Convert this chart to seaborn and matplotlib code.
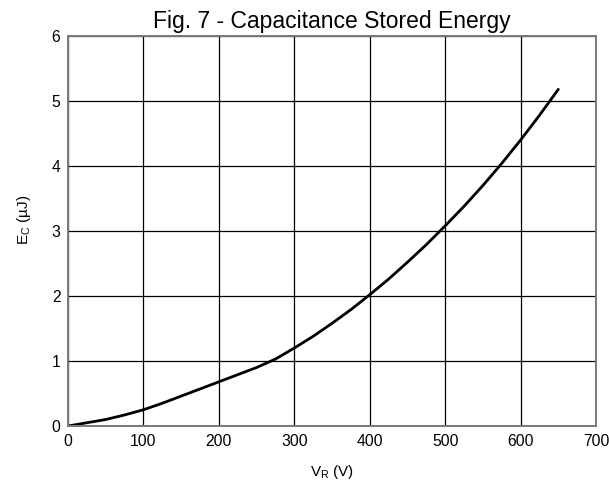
import matplotlib
matplotlib.use('Agg')
import matplotlib.pyplot as plt
import seaborn as sns
import pandas as pd

v_r = [0, 25, 50, 75, 100, 125, 150, 175, 200, 225, 250, 275, 300, 325, 350,
       375, 400, 425, 450, 475, 500, 525, 550, 575, 600, 625, 650]
e_c = [0, 0.05, 0.1, 0.17, 0.25, 0.35, 0.46, 0.57, 0.68, 0.79, 0.9, 1.03, 1.2,
       1.38, 1.58, 1.79, 2.02, 2.26, 2.52, 2.79, 3.08, 3.38, 3.7, 4.04, 4.4, 4.78, 5.18]
x_ticks = [0, 100, 200, 300, 400, 500, 600, 700]
y_ticks = [0, 1, 2, 3, 4, 5, 6]

sns.set_style('white')
plt.rcParams['font.family'] = ['Liberation Sans', 'DejaVu Sans']
plt.rcParams['mathtext.fontset'] = 'custom'
plt.rcParams['mathtext.rm'] = 'Liberation Sans'
plt.rcParams['text.color'] = 'black'
plt.rcParams['axes.labelcolor'] = 'black'

df = pd.DataFrame({'V_R': v_r, 'E_C': e_c})

fig = plt.figure(figsize=(6.09, 4.93), dpi=100)
ax = fig.add_axes([0.1117, 0.1359, 0.867, 0.791])

sns.lineplot(data=df, x='V_R', y='E_C', ax=ax, color='black', linewidth=2)

ax.set_xlim(0, 700)
ax.set_ylim(0, 6)
ax.set_xticks(x_ticks)
ax.set_yticks(y_ticks)
ax.grid(True, color='black', linewidth=0.9)
ax.set_axisbelow(True)
for s in ax.spines.values():
    s.set_color('#7a7a7a')
    s.set_linewidth(1.4)
ax.tick_params(labelsize=11.3, length=0, pad=5.5, colors='black')

ax.set_title('Fig. 7 - Capacitance Stored Energy', fontsize=16.5, pad=6)
ax.set_xlabel(r'V$_\mathregular{R}$ (V)', fontsize=11)
ax.set_ylabel(r'E$_\mathregular{C}$ (µJ)', fontsize=11)
ax.xaxis.set_label_coords(0.5, -0.095)
ax.yaxis.set_label_coords(-0.066, 0.53)

fig.savefig('out.png', dpi=100)
